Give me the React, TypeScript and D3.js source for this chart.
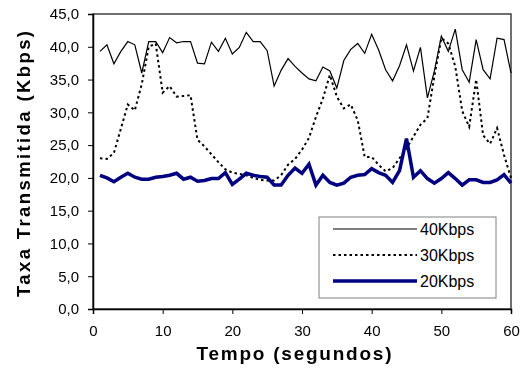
import React, { useRef, useEffect } from "react";
import * as d3 from "d3";

const seconds = [
  1, 2, 3, 4, 5, 6, 7, 8, 9, 10, 11, 12, 13, 14, 15, 16, 17, 18, 19, 20,
  21, 22, 23, 24, 25, 26, 27, 28, 29, 30, 31, 32, 33, 34, 35, 36, 37, 38, 39, 40,
  41, 42, 43, 44, 45, 46, 47, 48, 49, 50, 51, 52, 53, 54, 55, 56, 57, 58, 59, 60,
];

const rate40 = [
  39.3, 40.3, 37.4, 39.3, 40.8, 40.3, 36.0, 40.8, 40.8, 39.1,
  41.4, 40.6, 40.8, 40.8, 37.5, 37.4, 40.7, 39.3, 41.3, 38.9,
  39.9, 42.2, 40.8, 40.8, 39.4, 34.0, 36.4, 38.2, 37.0, 36.0,
  35.1, 34.8, 36.9, 36.3, 33.7, 37.9, 39.6, 40.5, 39.0, 41.9,
  39.5, 36.5, 34.8, 37.1, 40.3, 36.3, 39.9, 32.2, 36.3, 41.6,
  39.3, 42.7, 36.5, 34.6, 41.1, 36.5, 35.1, 41.3, 41.1, 36.0,
];

const rate30 = [
  23.0, 22.9, 23.8, 27.5, 31.2, 30.3, 34.3, 40.0, 40.5, 33.0,
  34.0, 32.4, 32.5, 32.6, 25.8, 24.8, 23.6, 22.4, 21.3, 20.8,
  20.6, 20.4, 20.0, 19.7, 19.6, 19.6, 20.4, 22.0, 22.9, 24.3,
  26.1, 29.3, 32.1, 35.7, 32.4, 30.6, 31.2, 28.8, 23.2, 23.2,
  22.0, 21.0, 21.5, 23.0, 24.5, 26.3, 28.1, 29.1, 35.5, 41.3,
  40.5, 37.0, 30.2, 27.8, 35.0, 26.5, 25.2, 27.6, 23.5, 20.0,
];

const rate20 = [
  20.4, 20.0, 19.4, 20.1, 20.7, 20.1, 19.8, 19.8, 20.1, 20.2,
  20.4, 20.7, 19.8, 20.1, 19.5, 19.6, 19.9, 19.9, 20.8, 19.0,
  19.8, 20.7, 20.4, 20.2, 20.1, 18.9, 18.9, 20.4, 21.5, 20.7,
  22.1, 18.9, 20.4, 19.3, 18.9, 19.2, 20.1, 20.4, 20.5, 21.4,
  20.8, 20.4, 19.3, 21.1, 26.0, 20.1, 21.1, 19.9, 19.2, 19.9,
  20.8, 19.9, 18.9, 19.7, 19.7, 19.3, 19.3, 19.7, 20.5, 19.2,
];

const yTicks = [0, 5, 10, 15, 20, 25, 30, 35, 40, 45];
const xTicks = [0, 10, 20, 30, 40, 50, 60];

const seriesNames = ["40Kbps", "30Kbps", "20Kbps"];

const App = () => {
  const svgRef = useRef<SVGSVGElement>(null);

  useEffect(() => {
    const W = 522, H = 368;
    const margin = { top: 14, right: 11, bottom: 59, left: 93 };
    const width = W - margin.left - margin.right;
    const height = H - margin.top - margin.bottom;
    const font = "'Liberation Sans', Arial, sans-serif";

    const svg = d3.select(svgRef.current);
    svg.selectAll("*").remove();

    const x = d3.scaleLinear().domain([0, 60]).range([0, width]);
    const y = d3.scaleLinear().domain([0, 45]).range([height, 0]);

    const g = svg.append("g").attr("transform", `translate(${margin.left},${margin.top})`);

    g.append("rect")
      .attr("width", width)
      .attr("height", height)
      .attr("fill", "white")
      .attr("stroke", "#404040")
      .attr("stroke-width", 1.5);

    const fmt = (d: number) => d.toFixed(1).replace(".", ",");

    const yAxis = g.append("g")
      .call(d3.axisLeft(y).tickValues(yTicks).tickSize(5).tickPadding(9).tickFormat(d => fmt(+d)));
    yAxis.select(".domain").attr("stroke", "#000").attr("stroke-width", 1.5);
    yAxis.selectAll("text").attr("font-family", font).attr("font-size", 15).attr("fill", "#000");

    const xAxis = g.append("g")
      .attr("transform", `translate(0,${height})`)
      .call(d3.axisBottom(x).tickValues(xTicks).tickSize(5).tickPadding(11).tickFormat(d => String(d)));
    xAxis.select(".domain").attr("stroke", "#000").attr("stroke-width", 1.5);
    xAxis.selectAll("text").attr("font-family", font).attr("font-size", 15).attr("fill", "#000");

    const rows = seconds.map((s, i) => ({ s, a: rate40[i], b: rate30[i], c: rate20[i] }));

    const styles = [
      { key: "a", color: "#000", w: 1.2, dash: null },
      { key: "b", color: "#000", w: 2, dash: "2.5 3" },
      { key: "c", color: "#000080", w: 3.5, dash: null },
    ];

    styles.forEach(st => {
      const line = d3.line<any>()
        .x(d => x(d.s))
        .y(d => y(d[st.key]));
      g.append("path")
        .datum(rows)
        .attr("d", line)
        .attr("fill", "none")
        .attr("stroke", st.color)
        .attr("stroke-width", st.w)
        .attr("stroke-linejoin", "miter")
        .attr("stroke-dasharray", st.dash);
    });

    // legend
    const legend = svg.append("g").attr("transform", "translate(319,217)");
    legend.append("rect")
      .attr("width", 177)
      .attr("height", 81)
      .attr("fill", "white")
      .attr("stroke", "#808080")
      .attr("stroke-width", 1);
    seriesNames.forEach((name, i) => {
      const st = styles[i];
      const ly = 12 + i * 26;
      legend.append("line")
        .attr("x1", 14).attr("x2", 98)
        .attr("y1", ly).attr("y2", ly)
        .attr("stroke", st.color)
        .attr("stroke-width", st.w)
        .attr("stroke-dasharray", st.dash);
      legend.append("text")
        .attr("x", 101)
        .attr("y", ly + 5.5)
        .attr("font-family", font)
        .attr("font-size", 16)
        .text(name);
    });

    svg.append("text")
      .attr("x", 294)
      .attr("y", 360)
      .attr("text-anchor", "middle")
      .attr("font-family", font)
      .attr("font-size", 19)
      .attr("font-weight", "bold")
      .attr("textLength", 195)
      .attr("lengthAdjust", "spacing")
      .text("Tempo (segundos)");

    svg.append("text")
      .attr("transform", "translate(30,164) rotate(-90)")
      .attr("text-anchor", "middle")
      .attr("font-family", font)
      .attr("font-size", 18.5)
      .attr("font-weight", "bold")
      .attr("textLength", 266)
      .attr("lengthAdjust", "spacing")
      .text("Taxa Transmitida (Kbps)");
  }, []);

  return (
    <div style={{ position: "fixed", left: 0, top: 0 }}>
      <svg ref={svgRef} width={522} height={368} style={{ display: "block" }}></svg>
    </div>
  );
};

export default App;
